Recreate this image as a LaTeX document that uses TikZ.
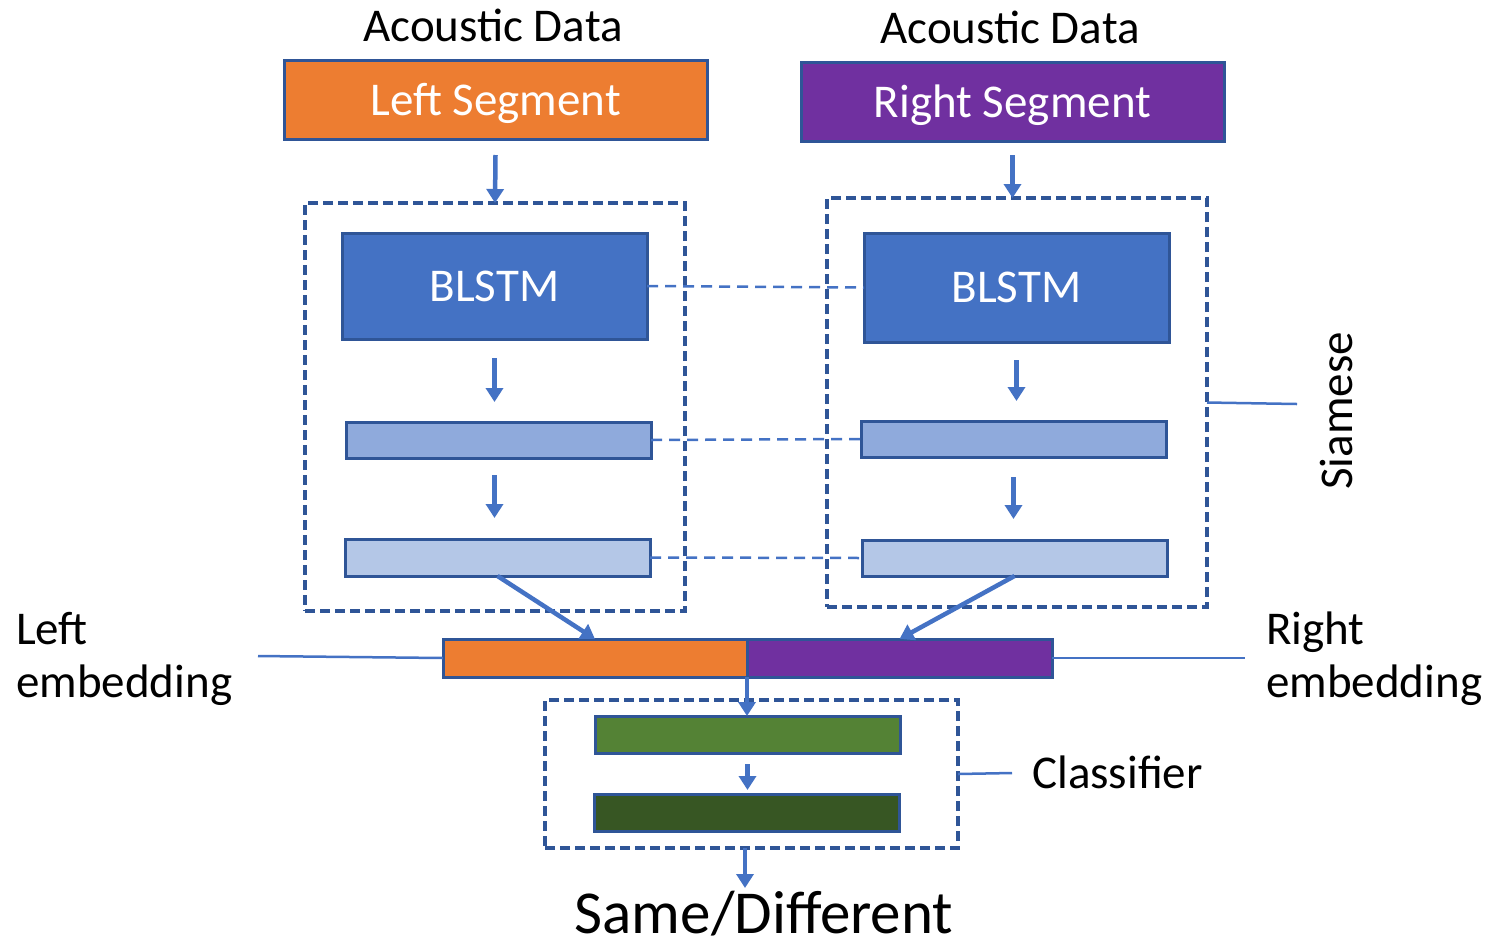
\documentclass[tikz,border=0pt]{standalone}
\usepackage{fontspec}
\setmainfont{Carlito}
\usetikzlibrary{arrows.meta}
\definecolor{bord}{HTML}{2F5597}
\definecolor{arrc}{HTML}{4472C4}
\definecolor{orng}{HTML}{ED7D31}
\definecolor{purp}{HTML}{7030A0}
\definecolor{blue1}{HTML}{4472C4}
\definecolor{blue2}{HTML}{8FAADC}
\definecolor{blue3}{HTML}{B4C7E7}
\definecolor{grn1}{HTML}{548235}
\definecolor{grn2}{HTML}{375623}
\begin{document}
\begin{tikzpicture}[x=1pt,y=-1pt,
  box/.style={draw=bord,line width=3pt,inner sep=0pt,outer sep=0pt,text depth=0pt},
  dbox/.style={draw=bord,line width=3.5pt,dash pattern=on 10pt off 5pt,inner sep=0pt,outer sep=0pt},
  arr/.style={draw=arrc,line width=4.5pt,-{Triangle[width=17pt,length=14pt]}},
  link/.style={draw=arrc,line width=2.5pt,dash pattern=on 11pt off 7pt},
  lead/.style={draw=arrc,line width=2.5pt},
  lbl/.style={font=\fontsize{47}{56}\selectfont,inner sep=0pt,anchor=base},
  wlbl/.style={text=white,font=\fontsize{47}{56}\selectfont}
]
\useasboundingbox (0,0) rectangle (1491,946);

% top labels
\node[lbl] (acL) at (493,41) {Acoustic Data};
\node[lbl] (acR) at (1010,43) {Acoustic Data};

% segments
\node[box,fill=orng,minimum width=423pt,minimum height=79pt,wlbl] (segL) at (495.5,99.5) {Left Segment};
\node[box,fill=purp,minimum width=423pt,minimum height=79pt,wlbl] (segR) at (1012.5,101.5) {Right Segment};

% dashed siamese boxes
\node[dbox,minimum width=380pt,minimum height=408pt] (dashL) at (495,407) {};
\node[dbox,minimum width=380pt,minimum height=409pt] (dashR) at (1017,402.5) {};

% BLSTM boxes
\node[box,fill=blue1,minimum width=305pt,minimum height=106pt,wlbl] (blL) at (494.5,286) {BLSTM};
\node[box,fill=blue1,minimum width=305pt,minimum height=109pt,wlbl] (blR) at (1016.5,287.5) {BLSTM};

% middle layers
\node[box,fill=blue2,minimum width=305pt,minimum height=36pt] (midL) at (498.5,440) {};
\node[box,fill=blue2,minimum width=305pt,minimum height=36pt] (midR) at (1013.5,439) {};

% bottom layers
\node[box,fill=blue3,minimum width=305pt,minimum height=37pt] (botL) at (497.5,557.5) {};
\node[box,fill=blue3,minimum width=305pt,minimum height=36pt] (botR) at (1014.5,558) {};

% embedding bar
\node[box,fill=orng,minimum width=304pt,minimum height=38pt] (embL) at (595,658) {};
\node[box,fill=purp,minimum width=305pt,minimum height=38pt] (embR) at (899.5,658) {};

% classifier
\node[dbox,minimum width=413pt,minimum height=148pt] (cls) at (751.5,774) {};
\node[box,fill=grn1,minimum width=305pt,minimum height=37pt] (g1) at (747.5,734.5) {};
\node[box,fill=grn2,minimum width=305pt,minimum height=37pt] (g2) at (746.5,812.5) {};

% side labels
\node[lbl,anchor=base west] (lftA) at (16,644) {Left};
\node[lbl,anchor=base west] (lftB) at (16,697) {embedding};
\node[lbl,anchor=base west] (rgtA) at (1266,644) {Right};
\node[lbl,anchor=base west] (rgtB) at (1266,697) {embedding};
\node[lbl,anchor=base west] (clsT) at (1032,788) {Classifier};
\node[lbl,rotate=90] (siam) at (1352,411) {Siamese};
\node[lbl,font=\fontsize{61}{70}\selectfont,text depth=0pt] (out) at (764,933) {Same/Different};

% coordinates
\coordinate (embLeadL) at (258,656);
\coordinate (embLeadR) at (1245,658);
\coordinate (siamEnd) at (1297,404);
\coordinate (clsEnd) at (1012,773);
\coordinate (outTip) at (745,888);

% arrows
\draw[arr] ([yshift=-16pt]segL.south) -- (dashL.north);
\draw[arr] ([yshift=-14pt]segR.south) -- (dashR.north -| segR.south);
\draw[arr,shorten <=19pt,shorten >=20pt] (blL.south) -- (blL.south |- midL.north);
\draw[arr,shorten <=18pt,shorten >=20pt] (blR.south) -- (blR.south |- midR.north);
\draw[arr,shorten <=17pt,shorten >=21pt] (midL.south -| blL.south) -- (blL.south |- botL.north);
\draw[arr,shorten <=20pt,shorten >=21pt] (midR.south) -- (midR.south |- botR.north);
\draw[arr] (botL.south) -- (embL.north);
\draw[arr] (botR.south) -- (embR.north);
\draw[arr] (embL.south east) -- (embL.south east |- g1.north);
\draw[arr,shorten <=11pt,shorten >=4pt] (g1.south) -- (g1.south |- g2.north);
\draw[arr] (cls.south -| outTip) -- (outTip);

% dashed links
\draw[link] (blL.east) -- (blR.west);
\draw[link] (midL.east) -- (midR.west);
\draw[link] (botL.east) -- (botR.west);

% leader lines
\draw[lead] (embLeadL) -- (embL.west);
\draw[lead] (embR.east) -- (embLeadR);
\draw[lead] (dashR.east) -- (siamEnd);
\draw[lead] (cls.east) -- (clsEnd);
\end{tikzpicture}
\end{document}
